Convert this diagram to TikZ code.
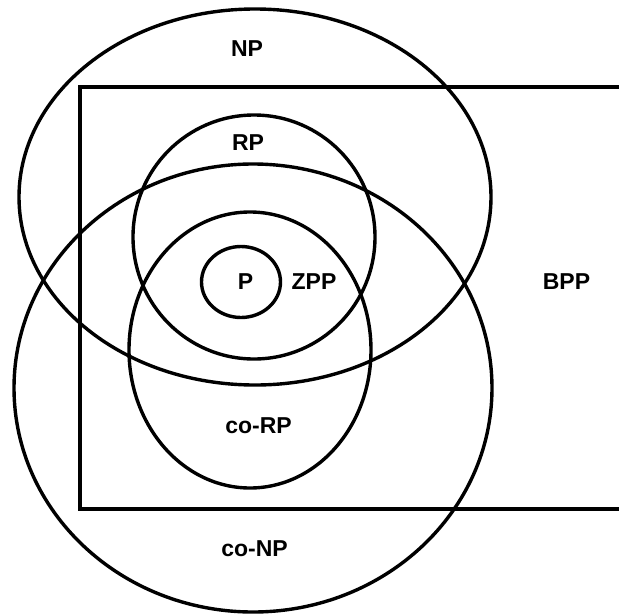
\documentclass[tikz,border=0pt]{standalone}
\usepackage{fontspec}
\setmainfont{Liberation Sans}
\usetikzlibrary{shapes.geometric}
\begin{document}
\begin{tikzpicture}[x=1pt,y=-1pt,
  set/.style={ellipse,draw,line width=3.4pt,inner sep=0pt,outer sep=0pt},
  lab/.style={font=\bfseries\fontsize{23}{23}\selectfont,inner sep=0pt}]
\useasboundingbox (0,0) rectangle (619,614);
\node[set,minimum width=472pt,minimum height=376pt] (np) at (255,197) {};
\node[set,minimum width=478pt,minimum height=448pt] (conp) at (253,388) {};
\node[set,minimum width=242pt,minimum height=244pt] (rp) at (254,237) {};
\node[set,minimum width=242pt,minimum height=276pt] (corp) at (250,350) {};
\node[set,minimum width=79pt,minimum height=71pt] (p) at (241,282) {};
\draw[line width=3.4pt] (625,87) -- (80,87) -- (80,509) -- (625,509);
\node[lab] (lnp) at (247,49) {NP};
\node[lab] (lrp) at (248,143) {RP};
\node[lab] (lp) at (245.5,282) {P};
\node[lab] (lzpp) at (314,282) {ZPP};
\node[lab] (lbpp) at (566.5,282) {BPP};
\node[lab] (lcorp) at (258.6,426) {co-RP};
\node[lab] (lconp) at (254.6,549) {co-NP};
\end{tikzpicture}
\end{document}
